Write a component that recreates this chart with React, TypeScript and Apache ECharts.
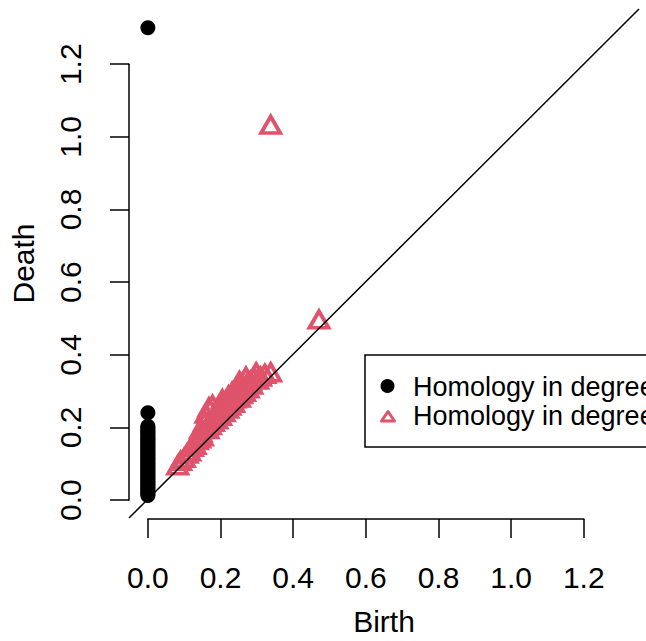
import React, { useEffect, useRef } from "react";
import * as echarts from "echarts";

// axis range (R: lim c(0, 1.3) extended by 4%)
const AXIS_MIN = -0.052;
const AXIS_MAX = 1.352;
const TICK_MIN = 0;
const TICK_MAX = 1.2;
const TICK_STEP = 0.2;

// Homology in degree 0: birth is 0, death values
const h0Death = [
  1.3, 0.238, 0.201, 0.197, 0.192, 0.187, 0.183, 0.178, 0.173, 0.169, 0.164,
  0.16, 0.155, 0.151, 0.146, 0.142, 0.137, 0.132, 0.128, 0.123, 0.119, 0.114,
  0.11, 0.105, 0.1, 0.096, 0.091, 0.087, 0.082, 0.078, 0.073, 0.069, 0.064,
  0.06, 0.055, 0.05, 0.046, 0.041, 0.037, 0.032, 0.028, 0.023, 0.019, 0.014,
  0.01,
];

// Homology in degree 1: [birth, death]
const h1Points: [number, number][] = [
  [0.338, 1.025],
  [0.471, 0.488],
  [0.082, 0.085],
  [0.09, 0.098],
  [0.1, 0.106],
  [0.108, 0.118],
  [0.115, 0.124],
  [0.122, 0.136],
  [0.13, 0.142],
  [0.136, 0.155],
  [0.142, 0.16],
  [0.146, 0.176],
  [0.15, 0.165],
  [0.156, 0.205],
  [0.16, 0.228],
  [0.165, 0.185],
  [0.168, 0.245],
  [0.172, 0.196],
  [0.178, 0.252],
  [0.18, 0.205],
  [0.185, 0.222],
  [0.19, 0.212],
  [0.194, 0.238],
  [0.2, 0.222],
  [0.2, 0.252],
  [0.205, 0.268],
  [0.21, 0.232],
  [0.214, 0.258],
  [0.22, 0.242],
  [0.222, 0.278],
  [0.226, 0.25],
  [0.232, 0.288],
  [0.236, 0.258],
  [0.24, 0.27],
  [0.246, 0.298],
  [0.252, 0.318],
  [0.252, 0.272],
  [0.258, 0.282],
  [0.262, 0.298],
  [0.266, 0.288],
  [0.272, 0.31],
  [0.276, 0.298],
  [0.282, 0.318],
  [0.286, 0.308],
  [0.292, 0.328],
  [0.298, 0.342],
  [0.302, 0.322],
  [0.31, 0.33],
  [0.322, 0.338],
  [0.338, 0.342],
  [0.125, 0.142],
  [0.134, 0.162],
  [0.162, 0.192],
  [0.174, 0.205],
  [0.145, 0.185],
  [0.192, 0.228],
  [0.212, 0.248],
  [0.232, 0.268],
  [0.25, 0.288],
  [0.27, 0.33],
];

const legendLabels = ["Homology in degree 0", "Homology in degree 1"];
const xTitle = "Birth";
const yTitle = "Death";

const FONT = "'Liberation Sans', Arial, Helvetica, sans-serif";
const RED = "#DF536B";

export default function App() {
  const ref = useRef<HTMLDivElement>(null);

  useEffect(() => {
    const chart = echarts.init(ref.current!, null, { renderer: "svg" });
    const L = 129;
    const T = 9;
    const S = 510;
    const ppu = S / (AXIS_MAX - AXIS_MIN);
    const x0 = L + (TICK_MIN - AXIS_MIN) * ppu;
    const tickSpan = (TICK_MAX - TICK_MIN) * ppu;
    const yTop = T + (AXIS_MAX - TICK_MAX) * ppu;

    const axisLineStyle = { color: "#000", width: 1.5 };
    const labelStyle = {
      fontSize: 30,
      color: "#000",
      fontFamily: FONT,
      formatter: (v: number) => v.toFixed(1),
    };
    const hidden = {
      axisLine: { show: false },
      axisTick: { show: false },
      axisLabel: { show: false },
      splitLine: { show: false },
    };

    chart.setOption({
      animation: false,
      backgroundColor: "#fff",
      grid: [
        { left: L, top: T, width: S, height: S },
        { left: x0, top: T, width: tickSpan, height: S },
        { left: L, top: yTop, width: S, height: tickSpan },
      ],
      xAxis: [
        {
          gridIndex: 0,
          type: "value",
          min: AXIS_MIN,
          max: AXIS_MAX,
          ...hidden,
          name: xTitle,
          nameLocation: "middle",
          nameGap: 88,
          nameTextStyle: { fontSize: 30, color: "#000", fontFamily: FONT },
        },
        {
          gridIndex: 1,
          type: "value",
          min: TICK_MIN,
          max: TICK_MAX,
          interval: TICK_STEP,
          axisLine: { show: true, onZero: false, lineStyle: axisLineStyle },
          axisTick: { show: true, length: 19, lineStyle: axisLineStyle },
          axisLabel: { margin: 43, ...labelStyle },
          splitLine: { show: false },
        },
        {
          gridIndex: 2,
          type: "value",
          min: AXIS_MIN,
          max: AXIS_MAX,
          show: false,
        },
      ],
      yAxis: [
        {
          gridIndex: 0,
          type: "value",
          min: AXIS_MIN,
          max: AXIS_MAX,
          ...hidden,
          name: yTitle,
          nameLocation: "middle",
          nameRotate: 90,
          nameGap: 91,
          nameTextStyle: { fontSize: 30, color: "#000", fontFamily: FONT },
        },
        {
          gridIndex: 1,
          type: "value",
          min: AXIS_MIN,
          max: AXIS_MAX,
          show: false,
        },
        {
          gridIndex: 2,
          type: "value",
          min: TICK_MIN,
          max: TICK_MAX,
          interval: TICK_STEP,
          axisLine: { show: true, onZero: false, lineStyle: axisLineStyle },
          axisTick: { show: true, length: 19, lineStyle: axisLineStyle },
          axisLabel: { margin: 44, rotate: 90, ...labelStyle },
          splitLine: { show: false },
        },
      ],
      series: [
        {
          name: legendLabels[0],
          type: "scatter",
          xAxisIndex: 0,
          yAxisIndex: 0,
          data: h0Death.map((d) => [0, d]),
          symbol: "circle",
          symbolSize: 15,
          itemStyle: { color: "#000", opacity: 1 },
        },
        {
          name: legendLabels[1],
          type: "scatter",
          xAxisIndex: 0,
          yAxisIndex: 0,
          data: h1Points,
          symbol: "triangle",
          symbolSize: [19, 16.5],
          symbolOffset: [0, -2.75],
          itemStyle: {
            color: "rgba(0,0,0,0)",
            borderColor: RED,
            borderWidth: 3.8,
            opacity: 1,
          },
        },
        {
          type: "line",
          xAxisIndex: 0,
          yAxisIndex: 0,
          data: [
            [AXIS_MIN, AXIS_MIN],
            [AXIS_MAX, AXIS_MAX],
          ],
          symbol: "none",
          silent: true,
          lineStyle: { color: "#000", width: 1.5 },
        },
      ],
      graphic: [
        {
          type: "rect",
          shape: { x: 365, y: 355, width: 320, height: 92 },
          style: { fill: "#fff", stroke: "#000", lineWidth: 1.5 },
        },
        {
          type: "circle",
          shape: { cx: 387.5, cy: 386, r: 7 },
          style: { fill: "#000" },
        },
        {
          type: "polygon",
          shape: {
            points: [
              [388, 411.5],
              [381.5, 421],
              [394.5, 421],
            ],
          },
          style: { fill: "none", stroke: RED, lineWidth: 3, lineJoin: "round" },
        },
        {
          type: "text",
          x: 413,
          y: 387,
          style: {
            text: legendLabels[0],
            font: `27px ${FONT}`,
            fill: "#000",
            verticalAlign: "middle",
          },
        },
        {
          type: "text",
          x: 413,
          y: 416,
          style: {
            text: legendLabels[1],
            font: `27px ${FONT}`,
            fill: "#000",
            verticalAlign: "middle",
          },
        },
      ],
    });

    return () => chart.dispose();
  }, []);

  return (
    <div
      ref={ref}
      style={{ position: "absolute", left: 0, top: 0, width: 646, height: 641 }}
    />
  );
}
